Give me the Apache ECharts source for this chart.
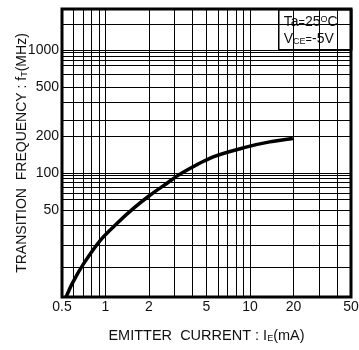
<!DOCTYPE html>
<html>
<head>
<meta charset="utf-8">
<script src="https://cdn.jsdelivr.net/npm/echarts@6/dist/echarts.min.js"></script>
<style>
html,body{margin:0;padding:0;background:#fff;}
#c{width:359px;height:350px;}
</style>
</head>
<body>
<div id="c"></div>
<script>
// ---- data ----
const currentMA = [0.534, 0.589, 0.708, 0.924, 1.204, 1.568, 2.04, 2.665, 3.29, 5.56, 9.54, 13.7, 19.8];
const ftMHz     = [10, 12.9, 18.7, 28.9, 39.5, 52.3, 66.9, 83.3, 99, 136, 164, 180, 192];
const xTickLabels = [0.5, 1, 2, 5, 10, 20, 50];
const yTickLabels = [50, 100, 200, 500, 1000];
const xGridValues = [0.6, 0.7, 0.8, 0.9, 1, 2, 3, 4, 5, 6, 7, 8, 9, 10, 20, 30, 40];
const yGridValues = [17.3, 26, 38.3, 50, 62.2, 68.6, 77.8, 84.9, 91.4, 96, 100, 200, 270, 377, 500, 639, 752, 819, 894, 951, 1000, 1624];
const xRange = [0.5, 50];
const yRange = [10, 2140];

const FONT = '"Liberation Sans", Arial, sans-serif';
const TXT = '#111';

const chart = echarts.init(document.getElementById('c'), null, {renderer: 'canvas'});

const markData = xGridValues.map(v => ({xAxis: v})).concat(yGridValues.map(v => ({yAxis: v})));

chart.setOption({
  animation: false,
  backgroundColor: '#fff',
  grid: {left: 62, top: 9, width: 289, height: 288, containLabel: false, outerBoundsMode: 'none',
    show: true, borderColor: '#000', borderWidth: 3, backgroundColor: 'transparent', z: 5},
  xAxis: {
    type: 'log', logBase: 10, min: xRange[0], max: xRange[1],
    axisLine: {show: false}, axisTick: {show: false}, splitLine: {show: false}, minorSplitLine: {show: false},
    axisLabel: {customValues: xTickLabels, formatter: v => String(v), fontFamily: FONT, fontSize: 14, color: TXT, margin: 3, hideOverlap: false, showMinLabel: true, showMaxLabel: true},
    name: 'EMITTER  CURRENT : I{sub|E}(mA)', nameLocation: 'middle', nameGap: 31, nameMoveOverlap: false,
    nameTextStyle: {fontFamily: FONT, fontSize: 14.5, color: TXT,
      rich: {sub: {fontFamily: FONT, fontSize: 9, color: TXT, verticalAlign: 'bottom', padding: [5, 0, 0, 0]}}}
  },
  yAxis: {
    type: 'log', logBase: 10, min: yRange[0], max: yRange[1],
    axisLine: {show: false}, axisTick: {show: false}, splitLine: {show: false}, minorSplitLine: {show: false},
    axisLabel: {customValues: yTickLabels, formatter: v => String(v), fontFamily: FONT, fontSize: 14, color: TXT, margin: 3, hideOverlap: false},
    name: 'TRANSITION  FREQUENCY : f{sub|T}(MHz)', nameLocation: 'middle', nameGap: 33, nameMoveOverlap: false,
    nameTextStyle: {fontFamily: FONT, fontSize: 14, color: TXT,
      rich: {sub: {fontFamily: FONT, fontSize: 9, color: TXT, verticalAlign: 'bottom', padding: [5, 0, 0, 0]}}}
  },
  series: [{
    type: 'line',
    data: currentMA.map((x, i) => [x, ftMHz[i]]),
    smooth: 0.3,
    showSymbol: false,
    clip: true,
    lineStyle: {color: '#000', width: 3.5},
    z: 3,
    markLine: {
      silent: true, symbol: ['none', 'none'], animation: false,
      label: {show: false},
      lineStyle: {color: '#000', width: 1, type: 'solid'},
      data: markData
    }
  }],
  graphic: [{
    type: 'group', left: 278, top: 9, z: 100,
    children: [
      {type: 'rect', shape: {x: 0, y: 0, width: 73, height: 40}, style: {fill: '#fff', stroke: '#000', lineWidth: 1.5}},
      {type: 'text', left: 5, top: 5, style: {text: 'Ta{eq|=}25{sup|O}C', fontFamily: FONT, fontSize: 14, fill: TXT,
        rich: {eq: {fontSize: 11, fontFamily: FONT, fill: TXT, verticalAlign: 'bottom'}, sup: {fontSize: 9, fontFamily: FONT, fill: TXT, verticalAlign: 'top'}}}},
      {type: 'text', left: 5, top: 22, style: {text: 'V{sub|CE}{eq|=}-5V', fontFamily: FONT, fontSize: 14, fill: TXT,
        rich: {sub: {fontSize: 9, fontFamily: FONT, fill: TXT, verticalAlign: 'bottom'}, eq: {fontSize: 11, fontFamily: FONT, fill: TXT, verticalAlign: 'bottom'}}}}
    ]
  }]
});
</script>
</body>
</html>
